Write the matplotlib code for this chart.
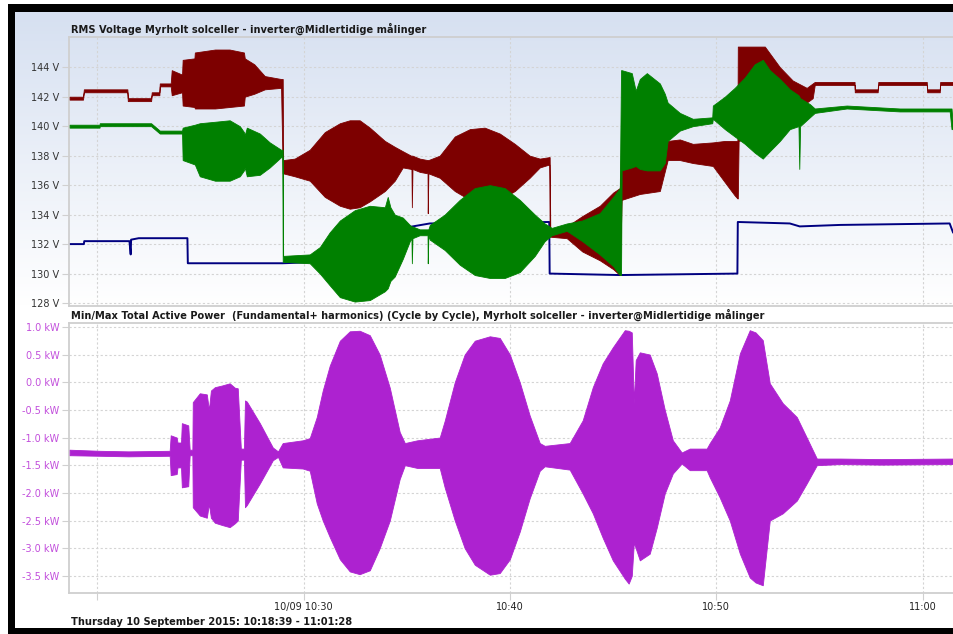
import numpy as np
import matplotlib
matplotlib.use("Agg")
import matplotlib.pyplot as plt
from matplotlib.patches import Rectangle

# ---------------- data (time = minutes after 10:00) ----------------
red_t = [18.65, 19.30, 19.34, 21.45, 21.47, 22.60, 22.63, 23.00, 23.02, 23.55,
         23.60, 24.10, 24.13, 24.70, 24.72, 25.70, 26.40, 27.10, 27.14, 27.60,
         28.11, 28.90, 28.98, 29.00, 29.56, 30.29, 31.02, 31.75, 32.23, 32.71,
         33.20, 33.93, 34.41, 34.80, 35.20, 35.22, 35.24, 35.27, 35.62, 36.00,
         36.01, 36.04, 36.59, 37.32, 38.05, 38.77, 39.50, 40.23, 40.95, 41.44,
         41.90, 41.92, 41.95, 42.75, 43.50, 44.35, 45.00, 45.32, 45.41, 46.29,
         47.26, 47.64, 48.23, 48.86, 49.83, 50.41, 50.89, 51.02, 51.04, 51.08,
         52.35, 53.08, 53.70, 54.38, 54.67, 54.77, 56.70, 56.71, 57.82, 57.85,
         60.20, 60.22, 60.83, 60.85, 61.47]
red_lo = [141.8, 141.8, 142.3, 142.3, 141.7, 141.7, 142.1, 142.1, 142.7, 142.7,
          142.1, 142.3, 141.4, 141.3, 141.2, 141.2, 141.3, 141.4, 142.0, 142.2,
          142.5, 142.6, 136.8, 136.8, 136.6, 136.3, 135.2, 134.6, 134.4, 134.5,
          134.9, 135.6, 136.3, 137.2, 137.1, 137.1, 134.5, 137.1, 136.9, 136.8,
          134.1, 136.8, 136.5, 135.6, 135.0, 134.8, 135.0, 135.6, 136.5, 137.2,
          137.4, 132.6, 132.5, 132.4, 131.5, 130.9, 130.3, 129.9, 135.0, 135.4,
          135.6, 137.7, 137.7, 137.5, 137.3, 136.2, 135.3, 135.1, 135.1, 139.0,
          139.5, 140.2, 140.8, 141.6, 141.9, 142.8, 142.8, 142.3, 142.3, 142.8,
          142.8, 142.3, 142.3, 142.8, 142.8]
red_hi = [142.0, 142.0, 142.5, 142.5, 141.9, 141.9, 142.3, 142.3, 142.9, 142.9,
          143.8, 143.5, 144.5, 144.6, 145.0, 145.2, 145.2, 145.0, 144.6, 144.2,
          143.4, 143.2, 143.2, 137.7, 137.8, 138.4, 139.6, 140.2, 140.4, 140.4,
          139.9, 139.0, 138.6, 138.3, 138.0, 138.0, 138.0, 138.0, 137.8, 137.7,
          137.7, 137.7, 138.0, 139.3, 139.8, 139.9, 139.5, 138.8, 138.0, 137.8,
          137.9, 137.9, 133.0, 133.2, 133.9, 134.6, 135.5, 135.8, 139.0, 139.0,
          139.0, 139.0, 139.1, 138.8, 138.9, 139.0, 139.0, 139.0, 145.4, 145.4,
          145.4, 144.0, 143.1, 142.6, 142.9, 143.0, 143.0, 142.5, 142.5, 143.0,
          143.0, 142.5, 142.5, 143.0, 143.0]

green_t = [18.65, 20.10, 20.11, 22.60, 23.02, 24.10, 24.13, 24.72, 24.96, 25.70,
           26.41, 26.90, 27.10, 27.14, 27.24, 27.87, 28.35, 28.90, 28.96, 28.98,
           29.00, 30.29, 30.78, 31.26, 31.75, 32.47, 33.20, 33.93, 34.07, 34.20,
           34.41, 34.80, 35.14, 35.22, 35.24, 35.27, 35.62, 36.00, 36.01, 36.04,
           36.11, 36.83, 37.56, 38.29, 39.02, 39.74, 40.47, 41.20, 41.68, 42.02,
           42.75, 43.50, 44.35, 45.00, 45.32, 45.38, 45.41, 45.90, 46.09, 46.29,
           46.63, 47.26, 47.50, 47.64, 48.23, 48.86, 49.80, 49.83, 50.41, 50.89,
           51.38, 51.86, 52.25, 52.59, 53.08, 53.56, 53.98, 54.02, 54.06, 54.53,
           54.77, 56.32, 58.89, 61.31, 61.40, 61.47]
green_lo = [139.9, 139.9, 140.0, 140.0, 139.5, 139.5, 137.7, 137.4, 136.6, 136.3,
            136.3, 136.6, 137.0, 137.2, 136.6, 136.7, 137.2, 137.9, 137.9, 130.8,
            130.8, 130.7, 130.0, 129.2, 128.4, 128.1, 128.2, 128.8, 129.0, 129.5,
            129.8, 131.0, 132.2, 132.4, 130.7, 132.4, 132.6, 132.6, 130.7, 132.6,
            132.3, 131.6, 130.6, 129.9, 129.7, 129.7, 130.1, 131.2, 132.2, 132.6,
            132.9, 132.2, 131.3, 130.5, 129.9, 129.9, 137.0, 137.2, 137.3, 137.1,
            137.0, 137.0, 137.5, 139.0, 139.7, 140.0, 140.2, 140.5, 139.8, 139.3,
            138.8, 138.2, 137.8, 138.3, 139.0, 139.8, 140.0, 137.1, 140.0, 140.6,
            140.9, 141.2, 141.0, 141.0, 139.8, 139.8]
green_hi = [140.1, 140.1, 140.2, 140.2, 139.7, 139.7, 139.9, 140.1, 140.2, 140.3,
            140.4, 140.0, 139.6, 139.4, 139.9, 139.5, 138.9, 138.4, 138.4, 138.4,
            131.2, 131.3, 131.8, 132.8, 133.6, 134.3, 134.6, 134.5, 135.2, 134.5,
            134.0, 133.8, 133.3, 133.2, 133.2, 133.2, 133.0, 133.0, 133.0, 133.0,
            133.3, 134.0, 135.0, 135.8, 136.0, 135.8, 135.0, 134.0, 133.4, 133.1,
            133.4, 133.6, 134.1, 135.2, 135.8, 143.8, 143.8, 143.6, 142.4, 143.2,
            143.6, 142.9, 142.2, 141.6, 140.9, 140.5, 140.6, 141.4, 142.0, 142.6,
            143.3, 144.2, 144.5, 143.8, 143.2, 142.5, 142.1, 142.0, 141.9, 141.5,
            141.2, 141.4, 141.2, 141.2, 141.2, 140.0]

navy_t = [18.65, 19.34, 19.36, 21.55, 21.61, 21.63, 22.00, 24.36, 24.38, 28.98,
          31.00, 34.50, 35.28, 36.11, 41.90, 41.92, 45.32, 51.02, 51.04, 53.56,
          54.04, 56.00, 61.31, 61.47]
navy_v = [132.0, 132.0, 132.2, 132.2, 131.3, 132.3, 132.4, 132.4, 130.7, 130.7,
          130.8, 133.0, 133.2, 133.4, 133.5, 130.0, 129.9, 130.0, 133.5, 133.4,
          133.2, 133.3, 133.4, 132.8]

pw_t = [18.65, 20.11, 21.50, 23.50, 23.55, 23.84, 23.88, 24.05, 24.09, 24.40,
        24.47, 24.60, 24.62, 24.96, 25.30, 25.40, 25.50, 25.69, 26.03, 26.41,
        26.66, 26.80, 26.95, 27.10, 27.15, 27.24, 27.87, 28.50, 28.75, 28.98,
        29.95, 30.29, 30.63, 30.92, 31.26, 31.75, 32.23, 32.71, 33.20, 33.68,
        34.17, 34.65, 34.90, 35.50, 36.59, 36.83, 37.32, 37.80, 38.29, 39.02,
        39.50, 39.99, 40.47, 40.95, 41.44, 41.68, 42.89, 43.52, 44.01, 44.49,
        44.98, 45.56, 45.75, 45.90, 46.00, 46.09, 46.29, 46.77, 47.11, 47.50,
        47.89, 48.32, 48.71, 49.53, 49.68, 50.16, 50.65, 51.14, 51.62, 51.90,
        52.25, 52.59, 53.22, 53.90, 54.38, 54.87, 56.00, 58.00, 61.47]
pw_lo = [-1.32, -1.33, -1.34, -1.33, -1.68, -1.66, -1.54, -1.54, -1.90, -1.88,
         -1.32, -1.32, -2.26, -2.41, -2.45, -2.20, -2.45, -2.54, -2.58, -2.62,
         -2.55, -2.50, -1.40, -1.40, -2.26, -2.22, -1.83, -1.41, -1.35, -1.54,
         -1.56, -1.60, -2.19, -2.50, -2.80, -3.20, -3.42, -3.47, -3.40, -3.00,
         -2.50, -1.75, -1.50, -1.55, -1.55, -1.90, -2.50, -3.00, -3.30, -3.48,
         -3.45, -3.20, -2.70, -2.10, -1.60, -1.52, -1.58, -2.01, -2.37, -2.81,
         -3.22, -3.55, -3.64, -3.50, -2.90, -3.00, -3.22, -3.10, -2.63, -2.01,
         -1.65, -1.47, -1.59, -1.59, -1.72, -2.08, -2.50, -3.10, -3.53, -3.62,
         -3.67, -2.50, -2.37, -2.14, -1.83, -1.50, -1.48, -1.49, -1.48]
pw_hi = [-1.22, -1.24, -1.25, -1.24, -0.96, -1.00, -1.09, -1.09, -0.74, -0.78,
         -1.22, -1.22, -0.36, -0.20, -0.22, -0.50, -0.15, -0.09, -0.06, -0.02,
         -0.10, -0.11, -1.20, -1.20, -0.33, -0.35, -0.74, -1.18, -1.25, -1.10,
         -1.05, -1.01, -0.63, -0.15, 0.30, 0.75, 0.92, 0.93, 0.85, 0.50,
         -0.10, -0.90, -1.10, -1.05, -1.00, -0.70, 0.00, 0.50, 0.75, 0.83,
         0.80, 0.50, 0.00, -0.60, -1.10, -1.15, -1.10, -0.69, -0.09, 0.34,
         0.63, 0.94, 0.93, 0.90, -0.38, 0.40, 0.54, 0.50, 0.16, -0.50,
         -1.05, -1.27, -1.20, -1.20, -1.10, -0.82, -0.33, 0.52, 0.94, 0.90,
         0.76, -0.02, -0.38, -0.63, -1.00, -1.38, -1.38, -1.39, -1.38]

v_ticks = [128, 130, 132, 134, 136, 138, 140, 142, 144]
p_ticks = [-3.5, -3.0, -2.5, -2.0, -1.5, -1.0, -0.5, 0.0, 0.5, 1.0]
x_ticks = [20, 30, 40, 50, 60]
x_labels = ["", "10/09 10:30", "10:40", "10:50", "11:00"]

title_top = "RMS Voltage Myrholt solceller - inverter@Midlertidige målinger"
title_bot = ("Min/Max Total Active Power  (Fundamental+ harmonics) (Cycle by Cycle), "
             "Myrholt solceller - inverter@Midlertidige målinger")
footer = "Thursday 10 September 2015: 10:18:39 - 11:01:28"

# ---------------- figure ----------------
W, H = 954, 634
fig = plt.figure(figsize=(W / 100, H / 100), dpi=100)
fig.patch.set_facecolor("white")

def fx(px):
    return px / W

def fy(py):
    return 1 - py / H

# black frame and inner panel
fig.patches.append(Rectangle((fx(8), 0), 1, fy(4), transform=fig.transFigure,
                             facecolor="black", edgecolor="none", zorder=-30))
fig.patches.append(Rectangle((fx(15), fy(628)), 1, fy(12) - fy(628),
                             transform=fig.transFigure, facecolor="white",
                             edgecolor="none", zorder=-29))

# gradient background of top panel
bg = fig.add_axes([fx(15), fy(306), 1 - fx(15), fy(12) - fy(306)], zorder=-5)
top_c = np.array([214, 224, 241]) / 255
bot_c = np.array([255, 255, 255]) / 255
n = 256
frac = np.linspace(0, 1, n)[:, None]
grad = top_c[None, :] * (1 - frac) + bot_c[None, :] * frac
bg.imshow(grad[:, None, :], aspect="auto", extent=[0, 1, 0, 1])
bg.set_axis_off()

XL = (18.62, 61.52)
grid_kw = dict(color="#d4d4d4", linestyle=(0, (2, 2)), linewidth=0.8)
spine_c = "#cfcfcf"
FS = 7.0

def style(ax):
    ax.set_facecolor("none")
    for s in ["top", "left", "bottom"]:
        ax.spines[s].set_color(spine_c)
        ax.spines[s].set_linewidth(1.3)
    ax.spines["right"].set_visible(False)
    ax.grid(True, **grid_kw)
    ax.set_axisbelow(True)
    ax.set_xlim(*XL)
    ax.set_xticks(x_ticks)
    ax.tick_params(axis="both", color="#d0d0d0", width=0.8, length=5,
                   labelsize=FS, pad=2)

# top axes
ax1 = fig.add_axes([fx(69), fy(306), 1 - fx(69), fy(37) - fy(306)])
style(ax1)
ax1.set_ylim(127.8, 146.05)
ax1.set_yticks(v_ticks)
ax1.set_yticklabels([f"{v} V" for v in v_ticks], color="#333333")
ax1.set_xticklabels([])
ax1.tick_params(axis="x", length=0)
ax1.plot(navy_t, navy_v, color="#000080", linewidth=1.4, zorder=2)
ax1.fill_between(red_t, red_lo, red_hi, color="#7d0000", linewidth=0.6,
                 edgecolor="#7d0000", zorder=3)
ax1.fill_between(green_t, green_lo, green_hi, color="#008000", linewidth=0.6,
                 edgecolor="#008000", zorder=4)

# bottom axes
ax2 = fig.add_axes([fx(69), fy(593), 1 - fx(69), fy(323) - fy(593)])
style(ax2)
ax2.set_ylim(-3.81, 1.07)
ax2.set_yticks(p_ticks)
ax2.set_yticklabels([f"{v:.1f} kW" for v in p_ticks], color="#c24fdc")
ax2.set_xticklabels(x_labels, color="#222222")
ax2.tick_params(axis="x", length=5, pad=1.5)
ax2.fill_between(pw_t, pw_lo, pw_hi, color="#ad22d0", linewidth=0.6,
                 edgecolor="#ad22d0", zorder=3)

# titles and footer
TFS = 7.15
fig.text(fx(71), fy(29), title_top, fontsize=TFS, fontweight="bold",
         color="#1a1a1a", va="center", ha="left")
fig.text(fx(71), fy(315), title_bot, fontsize=TFS, fontweight="bold",
         color="#1a1a1a", va="center", ha="left")
fig.text(fx(71), fy(622), footer, fontsize=TFS, fontweight="bold",
         color="#1a1a1a", va="center", ha="left")

fig.savefig("out.png", dpi=100, facecolor="white")
